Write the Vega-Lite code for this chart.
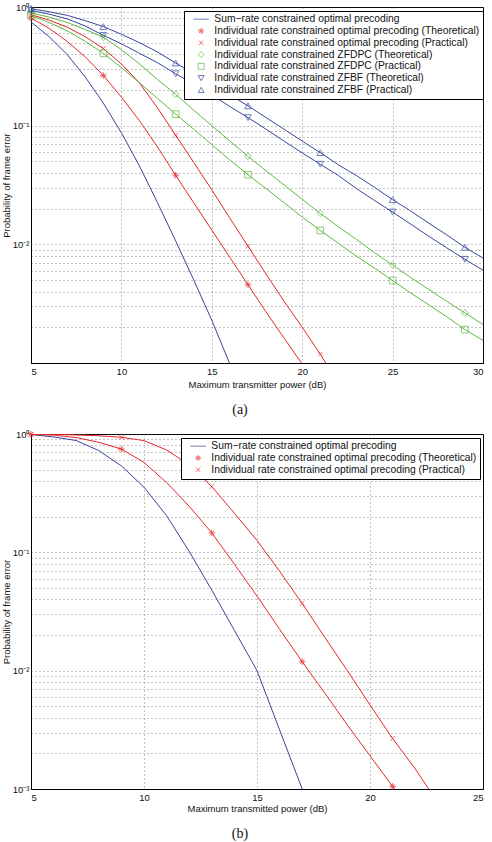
{
  "$schema": "https://vega.github.io/schema/vega-lite/v6.json",
  "background": "white",
  "padding": {"left": 0, "top": 1, "right": 5, "bottom": 2},
  "spacing": 10,
  "config": {
    "font": "Liberation Sans",
    "view": {"stroke": "black", "strokeWidth": 1},
    "axis": {"domainColor": "black", "domainWidth": 1, "ticks": false, "labelFont": "Liberation Sans", "labelFontSize": 9.5, "labelColor": "#111", "titleFont": "Liberation Sans", "titleFontSize": 9.5, "titleFontWeight": "normal", "titleColor": "#111", "gridColor": "#444", "gridDash": [1, 3], "gridWidth": 0.8, "gridOpacity": 0.8, "labelOverlap": false},
    "legend": {"title": null, "orient": "none", "strokeColor": "black", "fillColor": "white", "padding": 3, "labelFont": "Liberation Sans", "labelFontSize": 10.3, "labelColor": "#111", "symbolSize": 36, "symbolStrokeWidth": 1, "rowPadding": 0.8, "labelOffset": 8, "symbolOffset": 9, "labelLimit": 400}
  },
  "resolve": {"scale": {"color": "independent", "shape": "independent", "x": "independent", "y": "independent"}, "legend": {"color": "independent", "shape": "independent"}},
  "datasets": {
    "a": [
      {"s": "Sum−rate constrained optimal precoding", "x": 5, "p": 0.748},
      {"s": "Sum−rate constrained optimal precoding", "x": 6, "p": 0.562},
      {"s": "Sum−rate constrained optimal precoding", "x": 7, "p": 0.398},
      {"s": "Sum−rate constrained optimal precoding", "x": 8, "p": 0.257},
      {"s": "Sum−rate constrained optimal precoding", "x": 9, "p": 0.155},
      {"s": "Sum−rate constrained optimal precoding", "x": 10, "p": 0.0871},
      {"s": "Sum−rate constrained optimal precoding", "x": 11, "p": 0.0457},
      {"s": "Sum−rate constrained optimal precoding", "x": 12, "p": 0.0224},
      {"s": "Sum−rate constrained optimal precoding", "x": 13, "p": 0.0107},
      {"s": "Sum−rate constrained optimal precoding", "x": 14, "p": 0.00501},
      {"s": "Sum−rate constrained optimal precoding", "x": 15, "p": 0.00229},
      {"s": "Sum−rate constrained optimal precoding", "x": 16, "p": 0.00098},
      {"s": "Individual rate constrained optimal precoding (Theoretical)", "x": 5, "p": 0.807},
      {"s": "Individual rate constrained optimal precoding (Theoretical)", "x": 6, "p": 0.661},
      {"s": "Individual rate constrained optimal precoding (Theoretical)", "x": 7, "p": 0.513},
      {"s": "Individual rate constrained optimal precoding (Theoretical)", "x": 8, "p": 0.38},
      {"s": "Individual rate constrained optimal precoding (Theoretical)", "x": 9, "p": 0.265},
      {"s": "Individual rate constrained optimal precoding (Theoretical)", "x": 10, "p": 0.174},
      {"s": "Individual rate constrained optimal precoding (Theoretical)", "x": 11, "p": 0.11},
      {"s": "Individual rate constrained optimal precoding (Theoretical)", "x": 12, "p": 0.0661},
      {"s": "Individual rate constrained optimal precoding (Theoretical)", "x": 13, "p": 0.0382},
      {"s": "Individual rate constrained optimal precoding (Theoretical)", "x": 14, "p": 0.0224},
      {"s": "Individual rate constrained optimal precoding (Theoretical)", "x": 15, "p": 0.0132},
      {"s": "Individual rate constrained optimal precoding (Theoretical)", "x": 16, "p": 0.00776},
      {"s": "Individual rate constrained optimal precoding (Theoretical)", "x": 17, "p": 0.00457},
      {"s": "Individual rate constrained optimal precoding (Theoretical)", "x": 18, "p": 0.00269},
      {"s": "Individual rate constrained optimal precoding (Theoretical)", "x": 19, "p": 0.00162},
      {"s": "Individual rate constrained optimal precoding (Theoretical)", "x": 20, "p": 0.00098},
      {"s": "Individual rate constrained optimal precoding (Practical)", "x": 5, "p": 0.861},
      {"s": "Individual rate constrained optimal precoding (Practical)", "x": 6, "p": 0.776},
      {"s": "Individual rate constrained optimal precoding (Practical)", "x": 7, "p": 0.676},
      {"s": "Individual rate constrained optimal precoding (Practical)", "x": 8, "p": 0.562},
      {"s": "Individual rate constrained optimal precoding (Practical)", "x": 9, "p": 0.447},
      {"s": "Individual rate constrained optimal precoding (Practical)", "x": 10, "p": 0.331},
      {"s": "Individual rate constrained optimal precoding (Practical)", "x": 11, "p": 0.229},
      {"s": "Individual rate constrained optimal precoding (Practical)", "x": 12, "p": 0.141},
      {"s": "Individual rate constrained optimal precoding (Practical)", "x": 13, "p": 0.0832},
      {"s": "Individual rate constrained optimal precoding (Practical)", "x": 14, "p": 0.049},
      {"s": "Individual rate constrained optimal precoding (Practical)", "x": 15, "p": 0.0288},
      {"s": "Individual rate constrained optimal precoding (Practical)", "x": 16, "p": 0.0166},
      {"s": "Individual rate constrained optimal precoding (Practical)", "x": 17, "p": 0.00964},
      {"s": "Individual rate constrained optimal precoding (Practical)", "x": 18, "p": 0.00562},
      {"s": "Individual rate constrained optimal precoding (Practical)", "x": 19, "p": 0.00331},
      {"s": "Individual rate constrained optimal precoding (Practical)", "x": 20, "p": 0.002},
      {"s": "Individual rate constrained optimal precoding (Practical)", "x": 21, "p": 0.00119},
      {"s": "Individual rate constrained optimal precoding (Practical)", "x": 21.4, "p": 0.00095},
      {"s": "Individual rate constrained ZFDPC (Theoretical)", "x": 5, "p": 0.891},
      {"s": "Individual rate constrained ZFDPC (Theoretical)", "x": 6, "p": 0.822},
      {"s": "Individual rate constrained ZFDPC (Theoretical)", "x": 7, "p": 0.741},
      {"s": "Individual rate constrained ZFDPC (Theoretical)", "x": 8, "p": 0.646},
      {"s": "Individual rate constrained ZFDPC (Theoretical)", "x": 9, "p": 0.556},
      {"s": "Individual rate constrained ZFDPC (Theoretical)", "x": 10, "p": 0.437},
      {"s": "Individual rate constrained ZFDPC (Theoretical)", "x": 11, "p": 0.331},
      {"s": "Individual rate constrained ZFDPC (Theoretical)", "x": 12, "p": 0.245},
      {"s": "Individual rate constrained ZFDPC (Theoretical)", "x": 13, "p": 0.184},
      {"s": "Individual rate constrained ZFDPC (Theoretical)", "x": 14, "p": 0.135},
      {"s": "Individual rate constrained ZFDPC (Theoretical)", "x": 15, "p": 0.1},
      {"s": "Individual rate constrained ZFDPC (Theoretical)", "x": 16, "p": 0.0741},
      {"s": "Individual rate constrained ZFDPC (Theoretical)", "x": 17, "p": 0.0552},
      {"s": "Individual rate constrained ZFDPC (Theoretical)", "x": 18, "p": 0.0417},
      {"s": "Individual rate constrained ZFDPC (Theoretical)", "x": 19, "p": 0.0316},
      {"s": "Individual rate constrained ZFDPC (Theoretical)", "x": 20, "p": 0.024},
      {"s": "Individual rate constrained ZFDPC (Theoretical)", "x": 21, "p": 0.0182},
      {"s": "Individual rate constrained ZFDPC (Theoretical)", "x": 22, "p": 0.0141},
      {"s": "Individual rate constrained ZFDPC (Theoretical)", "x": 23, "p": 0.011},
      {"s": "Individual rate constrained ZFDPC (Theoretical)", "x": 24, "p": 0.00851},
      {"s": "Individual rate constrained ZFDPC (Theoretical)", "x": 25, "p": 0.0067},
      {"s": "Individual rate constrained ZFDPC (Theoretical)", "x": 26, "p": 0.00525},
      {"s": "Individual rate constrained ZFDPC (Theoretical)", "x": 27, "p": 0.00417},
      {"s": "Individual rate constrained ZFDPC (Theoretical)", "x": 28, "p": 0.00331},
      {"s": "Individual rate constrained ZFDPC (Theoretical)", "x": 29, "p": 0.00264},
      {"s": "Individual rate constrained ZFDPC (Theoretical)", "x": 30, "p": 0.00211},
      {"s": "Individual rate constrained ZFDPC (Practical)", "x": 5, "p": 0.851},
      {"s": "Individual rate constrained ZFDPC (Practical)", "x": 6, "p": 0.741},
      {"s": "Individual rate constrained ZFDPC (Practical)", "x": 7, "p": 0.631},
      {"s": "Individual rate constrained ZFDPC (Practical)", "x": 8, "p": 0.513},
      {"s": "Individual rate constrained ZFDPC (Practical)", "x": 9, "p": 0.407},
      {"s": "Individual rate constrained ZFDPC (Practical)", "x": 10, "p": 0.309},
      {"s": "Individual rate constrained ZFDPC (Practical)", "x": 11, "p": 0.229},
      {"s": "Individual rate constrained ZFDPC (Practical)", "x": 12, "p": 0.17},
      {"s": "Individual rate constrained ZFDPC (Practical)", "x": 13, "p": 0.125},
      {"s": "Individual rate constrained ZFDPC (Practical)", "x": 14, "p": 0.0933},
      {"s": "Individual rate constrained ZFDPC (Practical)", "x": 15, "p": 0.0692},
      {"s": "Individual rate constrained ZFDPC (Practical)", "x": 16, "p": 0.0513},
      {"s": "Individual rate constrained ZFDPC (Practical)", "x": 17, "p": 0.0386},
      {"s": "Individual rate constrained ZFDPC (Practical)", "x": 18, "p": 0.0295},
      {"s": "Individual rate constrained ZFDPC (Practical)", "x": 19, "p": 0.0224},
      {"s": "Individual rate constrained ZFDPC (Practical)", "x": 20, "p": 0.017},
      {"s": "Individual rate constrained ZFDPC (Practical)", "x": 21, "p": 0.0131},
      {"s": "Individual rate constrained ZFDPC (Practical)", "x": 22, "p": 0.0102},
      {"s": "Individual rate constrained ZFDPC (Practical)", "x": 23, "p": 0.00794},
      {"s": "Individual rate constrained ZFDPC (Practical)", "x": 24, "p": 0.00631},
      {"s": "Individual rate constrained ZFDPC (Practical)", "x": 25, "p": 0.00495},
      {"s": "Individual rate constrained ZFDPC (Practical)", "x": 26, "p": 0.00389},
      {"s": "Individual rate constrained ZFDPC (Practical)", "x": 27, "p": 0.00309},
      {"s": "Individual rate constrained ZFDPC (Practical)", "x": 28, "p": 0.00245},
      {"s": "Individual rate constrained ZFDPC (Practical)", "x": 29, "p": 0.00191},
      {"s": "Individual rate constrained ZFDPC (Practical)", "x": 30, "p": 0.00155},
      {"s": "Individual rate constrained ZFBF (Theoretical)", "x": 5, "p": 0.938},
      {"s": "Individual rate constrained ZFBF (Theoretical)", "x": 6, "p": 0.871},
      {"s": "Individual rate constrained ZFBF (Theoretical)", "x": 7, "p": 0.794},
      {"s": "Individual rate constrained ZFBF (Theoretical)", "x": 8, "p": 0.692},
      {"s": "Individual rate constrained ZFBF (Theoretical)", "x": 9, "p": 0.577},
      {"s": "Individual rate constrained ZFBF (Theoretical)", "x": 10, "p": 0.49},
      {"s": "Individual rate constrained ZFBF (Theoretical)", "x": 11, "p": 0.407},
      {"s": "Individual rate constrained ZFBF (Theoretical)", "x": 12, "p": 0.339},
      {"s": "Individual rate constrained ZFBF (Theoretical)", "x": 13, "p": 0.274},
      {"s": "Individual rate constrained ZFBF (Theoretical)", "x": 14, "p": 0.224},
      {"s": "Individual rate constrained ZFBF (Theoretical)", "x": 15, "p": 0.182},
      {"s": "Individual rate constrained ZFBF (Theoretical)", "x": 16, "p": 0.145},
      {"s": "Individual rate constrained ZFBF (Theoretical)", "x": 17, "p": 0.117},
      {"s": "Individual rate constrained ZFBF (Theoretical)", "x": 18, "p": 0.0933},
      {"s": "Individual rate constrained ZFBF (Theoretical)", "x": 19, "p": 0.0741},
      {"s": "Individual rate constrained ZFBF (Theoretical)", "x": 20, "p": 0.0589},
      {"s": "Individual rate constrained ZFBF (Theoretical)", "x": 21, "p": 0.0473},
      {"s": "Individual rate constrained ZFBF (Theoretical)", "x": 22, "p": 0.038},
      {"s": "Individual rate constrained ZFBF (Theoretical)", "x": 23, "p": 0.0295},
      {"s": "Individual rate constrained ZFBF (Theoretical)", "x": 24, "p": 0.0234},
      {"s": "Individual rate constrained ZFBF (Theoretical)", "x": 25, "p": 0.0187},
      {"s": "Individual rate constrained ZFBF (Theoretical)", "x": 26, "p": 0.0148},
      {"s": "Individual rate constrained ZFBF (Theoretical)", "x": 27, "p": 0.0117},
      {"s": "Individual rate constrained ZFBF (Theoretical)", "x": 28, "p": 0.00933},
      {"s": "Individual rate constrained ZFBF (Theoretical)", "x": 29, "p": 0.00748},
      {"s": "Individual rate constrained ZFBF (Theoretical)", "x": 30, "p": 0.00605},
      {"s": "Individual rate constrained ZFBF (Practical)", "x": 5, "p": 0.968},
      {"s": "Individual rate constrained ZFBF (Practical)", "x": 6, "p": 0.912},
      {"s": "Individual rate constrained ZFBF (Practical)", "x": 7, "p": 0.851},
      {"s": "Individual rate constrained ZFBF (Practical)", "x": 8, "p": 0.767},
      {"s": "Individual rate constrained ZFBF (Practical)", "x": 9, "p": 0.684},
      {"s": "Individual rate constrained ZFBF (Practical)", "x": 10, "p": 0.589},
      {"s": "Individual rate constrained ZFBF (Practical)", "x": 11, "p": 0.501},
      {"s": "Individual rate constrained ZFBF (Practical)", "x": 12, "p": 0.417},
      {"s": "Individual rate constrained ZFBF (Practical)", "x": 13, "p": 0.337},
      {"s": "Individual rate constrained ZFBF (Practical)", "x": 14, "p": 0.275},
      {"s": "Individual rate constrained ZFBF (Practical)", "x": 15, "p": 0.224},
      {"s": "Individual rate constrained ZFBF (Practical)", "x": 16, "p": 0.182},
      {"s": "Individual rate constrained ZFBF (Practical)", "x": 17, "p": 0.147},
      {"s": "Individual rate constrained ZFBF (Practical)", "x": 18, "p": 0.117},
      {"s": "Individual rate constrained ZFBF (Practical)", "x": 19, "p": 0.0933},
      {"s": "Individual rate constrained ZFBF (Practical)", "x": 20, "p": 0.0741},
      {"s": "Individual rate constrained ZFBF (Practical)", "x": 21, "p": 0.0593},
      {"s": "Individual rate constrained ZFBF (Practical)", "x": 22, "p": 0.0468},
      {"s": "Individual rate constrained ZFBF (Practical)", "x": 23, "p": 0.038},
      {"s": "Individual rate constrained ZFBF (Practical)", "x": 24, "p": 0.0302},
      {"s": "Individual rate constrained ZFBF (Practical)", "x": 25, "p": 0.0238},
      {"s": "Individual rate constrained ZFBF (Practical)", "x": 26, "p": 0.0191},
      {"s": "Individual rate constrained ZFBF (Practical)", "x": 27, "p": 0.0151},
      {"s": "Individual rate constrained ZFBF (Practical)", "x": 28, "p": 0.012},
      {"s": "Individual rate constrained ZFBF (Practical)", "x": 29, "p": 0.00944},
      {"s": "Individual rate constrained ZFBF (Practical)", "x": 30, "p": 0.00767}
    ],
    "b": [
      {"s": "Sum−rate constrained optimal precoding", "x": 5, "p": 0.989},
      {"s": "Sum−rate constrained optimal precoding", "x": 6, "p": 0.944},
      {"s": "Sum−rate constrained optimal precoding", "x": 7, "p": 0.881},
      {"s": "Sum−rate constrained optimal precoding", "x": 8, "p": 0.724},
      {"s": "Sum−rate constrained optimal precoding", "x": 9, "p": 0.537},
      {"s": "Sum−rate constrained optimal precoding", "x": 10, "p": 0.355},
      {"s": "Sum−rate constrained optimal precoding", "x": 11, "p": 0.204},
      {"s": "Sum−rate constrained optimal precoding", "x": 12, "p": 0.102},
      {"s": "Sum−rate constrained optimal precoding", "x": 13, "p": 0.0479},
      {"s": "Sum−rate constrained optimal precoding", "x": 14, "p": 0.0219},
      {"s": "Sum−rate constrained optimal precoding", "x": 15, "p": 0.01},
      {"s": "Sum−rate constrained optimal precoding", "x": 16, "p": 0.00316},
      {"s": "Sum−rate constrained optimal precoding", "x": 17, "p": 0.001},
      {"s": "Individual rate constrained optimal precoding (Theoretical)", "x": 5, "p": 0.993},
      {"s": "Individual rate constrained optimal precoding (Theoretical)", "x": 6, "p": 0.977},
      {"s": "Individual rate constrained optimal precoding (Theoretical)", "x": 7, "p": 0.933},
      {"s": "Individual rate constrained optimal precoding (Theoretical)", "x": 8, "p": 0.851},
      {"s": "Individual rate constrained optimal precoding (Theoretical)", "x": 9, "p": 0.746},
      {"s": "Individual rate constrained optimal precoding (Theoretical)", "x": 10, "p": 0.575},
      {"s": "Individual rate constrained optimal precoding (Theoretical)", "x": 11, "p": 0.389},
      {"s": "Individual rate constrained optimal precoding (Theoretical)", "x": 12, "p": 0.245},
      {"s": "Individual rate constrained optimal precoding (Theoretical)", "x": 13, "p": 0.146},
      {"s": "Individual rate constrained optimal precoding (Theoretical)", "x": 14, "p": 0.0794},
      {"s": "Individual rate constrained optimal precoding (Theoretical)", "x": 15, "p": 0.0427},
      {"s": "Individual rate constrained optimal precoding (Theoretical)", "x": 16, "p": 0.0224},
      {"s": "Individual rate constrained optimal precoding (Theoretical)", "x": 17, "p": 0.0119},
      {"s": "Individual rate constrained optimal precoding (Theoretical)", "x": 18, "p": 0.00646},
      {"s": "Individual rate constrained optimal precoding (Theoretical)", "x": 19, "p": 0.00347},
      {"s": "Individual rate constrained optimal precoding (Theoretical)", "x": 20, "p": 0.00191},
      {"s": "Individual rate constrained optimal precoding (Theoretical)", "x": 21, "p": 0.00105},
      {"s": "Individual rate constrained optimal precoding (Theoretical)", "x": 21.1, "p": 0.00099},
      {"s": "Individual rate constrained optimal precoding (Practical)", "x": 5, "p": 0.995},
      {"s": "Individual rate constrained optimal precoding (Practical)", "x": 6, "p": 0.991},
      {"s": "Individual rate constrained optimal precoding (Practical)", "x": 7, "p": 0.982},
      {"s": "Individual rate constrained optimal precoding (Practical)", "x": 8, "p": 0.966},
      {"s": "Individual rate constrained optimal precoding (Practical)", "x": 9, "p": 0.938},
      {"s": "Individual rate constrained optimal precoding (Practical)", "x": 10, "p": 0.879},
      {"s": "Individual rate constrained optimal precoding (Practical)", "x": 11, "p": 0.733},
      {"s": "Individual rate constrained optimal precoding (Practical)", "x": 12, "p": 0.55},
      {"s": "Individual rate constrained optimal precoding (Practical)", "x": 13, "p": 0.359},
      {"s": "Individual rate constrained optimal precoding (Practical)", "x": 14, "p": 0.214},
      {"s": "Individual rate constrained optimal precoding (Practical)", "x": 15, "p": 0.126},
      {"s": "Individual rate constrained optimal precoding (Practical)", "x": 16, "p": 0.0692},
      {"s": "Individual rate constrained optimal precoding (Practical)", "x": 17, "p": 0.037},
      {"s": "Individual rate constrained optimal precoding (Practical)", "x": 18, "p": 0.0191},
      {"s": "Individual rate constrained optimal precoding (Practical)", "x": 19, "p": 0.01},
      {"s": "Individual rate constrained optimal precoding (Practical)", "x": 20, "p": 0.00513},
      {"s": "Individual rate constrained optimal precoding (Practical)", "x": 21, "p": 0.00267},
      {"s": "Individual rate constrained optimal precoding (Practical)", "x": 22, "p": 0.00148},
      {"s": "Individual rate constrained optimal precoding (Practical)", "x": 22.6, "p": 0.001}
    ]
  },
  "vconcat": [
    {
      "width": 452,
      "height": 356,
      "title": {"text": "(a)", "orient": "bottom", "anchor": "middle", "frame": "group", "font": "Liberation Serif", "fontSize": 14, "fontWeight": "normal", "color": "#111", "offset": 14, "dx": -17},
      "data": {"name": "a"},
      "encoding": {
        "x": {"field": "x", "type": "quantitative", "scale": {"domain": [5, 30], "nice": false, "zero": false}, "axis": {"title": "Maximum transmitter power (dB)", "values": [5, 10, 15, 20, 25, 30], "labelPadding": 3, "titlePadding": 4}},
        "y": {"field": "p", "type": "quantitative", "scale": {"type": "log", "domain": [0.001, 1], "nice": false}, "axis": {"title": "Probability of frame error", "values": [0.001, 0.002, 0.003, 0.004, 0.005, 0.006, 0.007, 0.008, 0.009, 0.01, 0.02, 0.03, 0.04, 0.05, 0.06, 0.07, 0.08, 0.09, 0.1, 0.2, 0.3, 0.4, 0.5, 0.6, 0.7, 0.8, 0.9, 1], "labelExpr": "datum.value == 1 ? '10⁰' : datum.value == 0.1 ? '10⁻¹' : datum.value == 0.01 ? '10⁻²' : ''", "labelPadding": 2, "titlePadding": 1}}
      },
      "layer": [
        {
          "mark": {"type": "line", "strokeWidth": 1, "clip": true},
          "encoding": {
            "color": {"field": "s", "type": "nominal", "scale": {"domain": ["Sum−rate constrained optimal precoding", "Individual rate constrained optimal precoding (Theoretical)", "Individual rate constrained optimal precoding (Practical)", "Individual rate constrained ZFDPC (Theoretical)", "Individual rate constrained ZFDPC (Practical)", "Individual rate constrained ZFBF (Theoretical)", "Individual rate constrained ZFBF (Practical)"], "range": ["#34479c", "#e8262a", "#e8262a", "#5db843", "#5db843", "#34479c", "#34479c"]}}
          }
        },
        {
          "transform": [{"filter": "indexof([5, 9, 13, 17, 21, 25, 29], datum.x) >= 0 && datum.s != 'Sum−rate constrained optimal precoding'"}],
          "mark": {"type": "point", "filled": false, "size": 45, "strokeWidth": 1},
          "encoding": {
            "color": {"field": "s", "type": "nominal", "scale": {"domain": ["Sum−rate constrained optimal precoding", "Individual rate constrained optimal precoding (Theoretical)", "Individual rate constrained optimal precoding (Practical)", "Individual rate constrained ZFDPC (Theoretical)", "Individual rate constrained ZFDPC (Practical)", "Individual rate constrained ZFBF (Theoretical)", "Individual rate constrained ZFBF (Practical)"], "range": ["#34479c", "#e8262a", "#e8262a", "#5db843", "#5db843", "#34479c", "#34479c"]}, "legend": {"legendX": 153, "legendY": 4}},
            "shape": {"field": "s", "type": "nominal", "scale": {"domain": ["Sum−rate constrained optimal precoding", "Individual rate constrained optimal precoding (Theoretical)", "Individual rate constrained optimal precoding (Practical)", "Individual rate constrained ZFDPC (Theoretical)", "Individual rate constrained ZFDPC (Practical)", "Individual rate constrained ZFBF (Theoretical)", "Individual rate constrained ZFBF (Practical)"], "range": ["M-2.6,0L2.6,0", "M-1,0L1,0M0,-1L0,1M-0.7,-0.7L0.7,0.7M-0.7,0.7L0.7,-0.7", "M-0.7,-0.7L0.7,0.7M-0.7,0.7L0.7,-0.7", "diamond", "square", "triangle-down", "triangle-up"]}, "legend": {"legendX": 153, "legendY": 4}}
          }
        }
      ]
    },
    {
      "width": 452,
      "height": 355,
      "title": {"text": "(b)", "orient": "bottom", "anchor": "middle", "frame": "group", "font": "Liberation Serif", "fontSize": 14, "fontWeight": "normal", "color": "#111", "offset": 14, "dx": -17},
      "data": {"name": "b"},
      "encoding": {
        "x": {"field": "x", "type": "quantitative", "scale": {"domain": [5, 25], "nice": false, "zero": false}, "axis": {"title": "Maximum transmitted power (dB)", "values": [5, 10, 15, 20, 25], "labelPadding": 3, "titlePadding": 2}},
        "y": {"field": "p", "type": "quantitative", "scale": {"type": "log", "domain": [0.001, 1], "nice": false}, "axis": {"title": "Probability of frame error", "values": [0.001, 0.002, 0.003, 0.004, 0.005, 0.006, 0.007, 0.008, 0.009, 0.01, 0.02, 0.03, 0.04, 0.05, 0.06, 0.07, 0.08, 0.09, 0.1, 0.2, 0.3, 0.4, 0.5, 0.6, 0.7, 0.8, 0.9, 1], "labelExpr": "datum.value == 1 ? '10⁰' : datum.value == 0.1 ? '10⁻¹' : datum.value == 0.01 ? '10⁻²' : datum.value == 0.001 ? '10⁻³' : ''", "labelPadding": 2, "titlePadding": 1}}
      },
      "layer": [
        {
          "mark": {"type": "line", "strokeWidth": 1, "clip": true},
          "encoding": {
            "color": {"field": "s", "type": "nominal", "scale": {"domain": ["Sum−rate constrained optimal precoding", "Individual rate constrained optimal precoding (Theoretical)", "Individual rate constrained optimal precoding (Practical)"], "range": ["#34479c", "#e8262a", "#e8262a"]}}
          }
        },
        {
          "transform": [{"filter": "indexof([5, 9, 13, 17, 21], datum.x) >= 0 && datum.s != 'Sum−rate constrained optimal precoding'"}],
          "mark": {"type": "point", "filled": false, "size": 45, "strokeWidth": 1},
          "encoding": {
            "color": {"field": "s", "type": "nominal", "scale": {"domain": ["Sum−rate constrained optimal precoding", "Individual rate constrained optimal precoding (Theoretical)", "Individual rate constrained optimal precoding (Practical)"], "range": ["#34479c", "#e8262a", "#e8262a"]}, "legend": {"legendX": 150, "legendY": 4}},
            "shape": {"field": "s", "type": "nominal", "scale": {"domain": ["Sum−rate constrained optimal precoding", "Individual rate constrained optimal precoding (Theoretical)", "Individual rate constrained optimal precoding (Practical)"], "range": ["M-2.6,0L2.6,0", "M-1,0L1,0M0,-1L0,1M-0.7,-0.7L0.7,0.7M-0.7,0.7L0.7,-0.7", "M-0.7,-0.7L0.7,0.7M-0.7,0.7L0.7,-0.7"]}, "legend": {"legendX": 150, "legendY": 4}}
          }
        }
      ]
    }
  ]
}
